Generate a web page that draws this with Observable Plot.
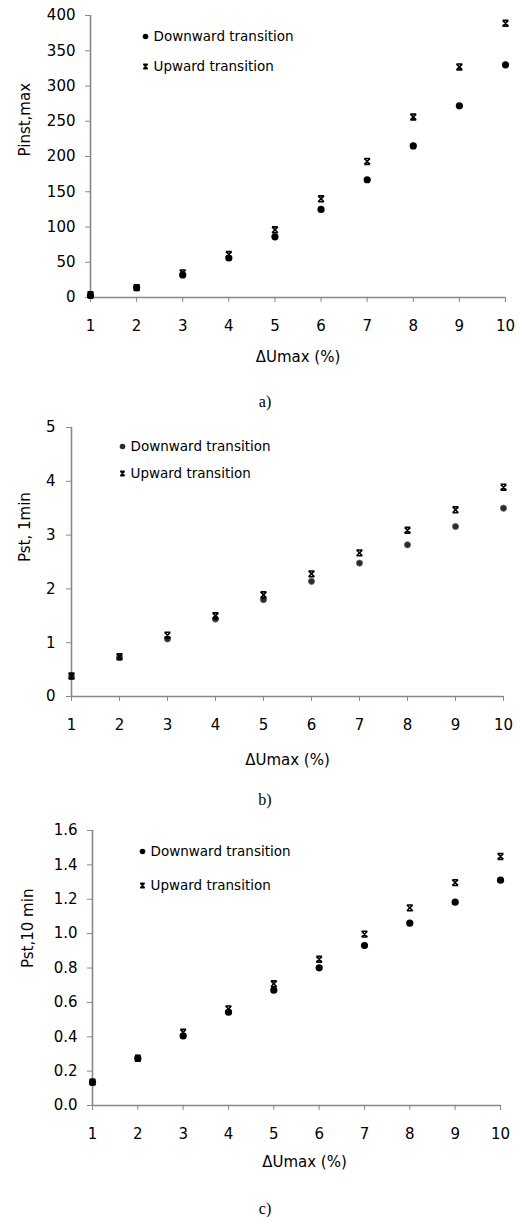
<!DOCTYPE html>
<html><head><meta charset="utf-8">
<script src="https://cdn.jsdelivr.net/npm/d3@7"></script>
<script src="https://cdn.jsdelivr.net/npm/@observablehq/plot@0.6"></script>
<style>
body{margin:0;background:#fff;width:520px;height:1217px;position:relative;overflow:hidden}
.panel{position:absolute;left:0}
.cap{position:absolute;font-family:"Liberation Serif","Times New Roman",serif;font-size:16px;transform:translate(-50%,-50%);color:#000}
</style></head><body>
<div id="pa" class="panel" style="top:0"></div>
<div id="pb" class="panel" style="top:412px"></div>
<div id="pc" class="panel" style="top:815px"></div>
<div class="cap" style="left:265px;top:402px">a)</div>
<div class="cap" style="left:265px;top:800px">b)</div>
<div class="cap" style="left:265px;top:1209px">c)</div>
<script>
const xValues = [1, 2, 3, 4, 5, 6, 7, 8, 9, 10];
const seriesNames = ["Downward transition", "Upward transition"];
const xTitle = "\u0394Umax (%)";

const pinstDown = [3, 14, 32, 56, 86, 125, 167, 215, 272, 330];
const pinstUp = [4, 14, 35, 61, 96, 140, 193, 256, 327, 389];
const pinstTicks = [0, 50, 100, 150, 200, 250, 300, 350, 400];

const pst1Down = [0.37, 0.73, 1.07, 1.44, 1.80, 2.14, 2.48, 2.82, 3.16, 3.50];
const pst1Up = [0.38, 0.74, 1.14, 1.50, 1.89, 2.28, 2.67, 3.09, 3.47, 3.89];
const pst1Ticks = [0, 1, 2, 3, 4, 5];

const pst10Down = [0.136, 0.275, 0.405, 0.543, 0.671, 0.801, 0.931, 1.061, 1.183, 1.311];
const pst10Up = [0.136, 0.275, 0.426, 0.562, 0.708, 0.851, 0.997, 1.150, 1.297, 1.449];
const pst10Ticks = [0, 0.2, 0.4, 0.6, 0.8, 1.0, 1.2, 1.4, 1.6];

const hourglass = {
  draw(ctx, size) {
    const h = Math.sqrt(size / Math.PI);
    ctx.moveTo(-h, -h); ctx.lineTo(h, -h);
    ctx.moveTo(-h, h); ctx.lineTo(h, h);
    ctx.moveTo(-h, -h); ctx.lineTo(h, h);
    ctx.moveTo(h, -h); ctx.lineTo(-h, h);
  }
};

function panel(id, o) {
  const data = xValues.map((x, i) => ({x, down: o.down[i], up: o.up[i]}));
  const axisGray = "#888";
  const plot = Plot.plot({
    width: 520, height: o.height,
    marginTop: o.mt, marginBottom: o.mb, marginLeft: o.ml, marginRight: o.mr,
    x: {domain: [1, 10]},
    y: {domain: [o.ticks[0], o.ticks[o.ticks.length - 1]]},
    style: {fontFamily: "DejaVu Sans", background: "white", color: "black"},
    marks: [
      Plot.axisX(xValues, {tickSize: 5, tickPadding: 18, stroke: axisGray, fill: "black", fontSize: 15, label: null}),
      Plot.axisY(o.ticks, {tickSize: 5, tickPadding: o.tp, stroke: axisGray, fill: "black", fontSize: 15, label: null, tickFormat: o.fmt}),
      Plot.ruleY([o.ticks[0]], {stroke: axisGray, strokeWidth: 1.6}),
      Plot.ruleX([1], {stroke: axisGray, strokeWidth: 1.6}),
      Plot.dot(data, {x: "x", y: "down", r: o.r, fill: o.downFill, stroke: o.downStroke, strokeWidth: 0.8}),
      Plot.dot(data, {x: "x", y: "up", r: 2.9, symbol: hourglass, fill: "none", stroke: "black", strokeWidth: 1.6}),
      Plot.text([o.yTitle], {text: d => d, frameAnchor: "left", rotate: -90, dx: o.ytdx, fontSize: 15}),
      Plot.text([xTitle], {text: d => d, frameAnchor: "bottom", lineAnchor: "middle", dy: o.xtdy, dx: o.xtdx, fontSize: 15}),
      Plot.dot([seriesNames[0]], {frameAnchor: "top-left", dx: o.lx, dy: o.ly1, r: 2.8, fill: o.downFill}),
      Plot.dot([seriesNames[1]], {frameAnchor: "top-left", dx: o.lx, dy: o.ly2, r: 2.2, symbol: hourglass, fill: "none", stroke: "black", strokeWidth: 1.4}),
      Plot.text([seriesNames[0]], {text: d => d, frameAnchor: "top-left", lineAnchor: "middle", dx: o.lx + 8, dy: o.ly1, textAnchor: "start", fontSize: 13.5}),
      Plot.text([seriesNames[1]], {text: d => d, frameAnchor: "top-left", lineAnchor: "middle", dx: o.lx + 8, dy: o.ly2, textAnchor: "start", fontSize: 13.5})
    ]
  });
  document.getElementById(id).appendChild(plot);
}

panel("pa", {height: 370, mt: 15, mb: 73, ml: 90, mr: 15, ticks: pinstTicks, fmt: d3.format("d"), tp: 10,
  down: pinstDown, up: pinstUp, r: 3.6, downFill: "black", downStroke: "none",
  yTitle: "Pinst,max", ytdx: -65, xtdy: 60, xtdx: 0, lx: 55, ly1: 21, ly2: 51});
panel("pb", {height: 370, mt: 15, mb: 86, ml: 71, mr: 17, ticks: pst1Ticks, fmt: d3.format("d"), tp: 11,
  down: pst1Down, up: pst1Up, r: 3.1, downFill: "#2a2a2a", downStroke: "#666",
  yTitle: "Pst, 1min", ytdx: -46, xtdy: 64, xtdx: 0, lx: 51, ly1: 19, ly2: 46});
panel("pc", {height: 370, mt: 15, mb: 80, ml: 92, mr: 20, ticks: pst10Ticks, fmt: d3.format(".1f"), tp: 10,
  down: pst10Down, up: pst10Up, r: 3.6, downFill: "black", downStroke: "none",
  yTitle: "Pst,10 min", ytdx: -64, xtdy: 57, xtdx: 8, lx: 50, ly1: 21, ly2: 55});
</script>
</body></html>
